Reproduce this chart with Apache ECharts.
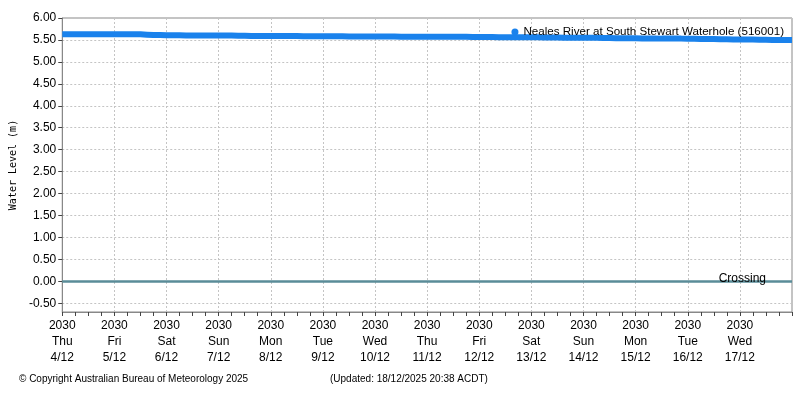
<!DOCTYPE html>
<html>
<head>
<meta charset="utf-8">
<script src="https://cdn.jsdelivr.net/npm/echarts@6/dist/echarts.min.js"></script>
<style>html,body{margin:0;padding:0;background:#fff}#c{width:800px;height:400px}</style>
</head>
<body>
<div id="c"></div>
<script>
var seriesName = 'Neales River at South Stewart Waterhole (516001)';
var startDateUTC = Date.UTC(2030, 11, 4);   // 4/12 00:00
var stepHours = 3;
var waterLevel = [
  5.63,5.63,5.63,5.63,5.63,5.63,5.63,5.63,
  5.63,5.63,5.63,5.63,5.63,5.62,5.61,5.61,
  5.605,5.605,5.605,5.60,5.60,5.60,5.60,5.60,
  5.60,5.60,5.60,5.595,5.595,5.59,5.59,5.59,
  5.59,5.59,5.59,5.59,5.59,5.585,5.585,5.585,
  5.585,5.585,5.585,5.585,5.58,5.58,5.58,5.58,
  5.58,5.58,5.58,5.58,5.575,5.57,5.57,5.57,
  5.57,5.57,5.57,5.57,5.57,5.57,5.57,5.565,
  5.565,5.565,5.565,5.56,5.56,5.56,5.56,5.56,
  5.56,5.56,5.555,5.555,5.555,5.55,5.55,5.55,
  5.55,5.55,5.55,5.545,5.545,5.54,5.54,5.54,
  5.54,5.535,5.535,5.535,5.53,5.53,5.53,5.53,
  5.525,5.525,5.52,5.52,5.52,5.515,5.515,5.51,
  5.51,5.51,5.51,5.505,5.505,5.50,5.50,5.50,
  5.50
];
var tickYears = ['2030','2030','2030','2030','2030','2030','2030','2030','2030','2030','2030','2030','2030','2030','2030'];
var tickDays = ['Thu','Fri','Sat','Sun','Mon','Tue','Wed','Thu','Fri','Sat','Sun','Mon','Tue','Wed','Thu'];
var tickDates = ['4/12','5/12','6/12','7/12','8/12','9/12','10/12','11/12','12/12','13/12','14/12','15/12','16/12','17/12','18/12'];
var yTicks = [-0.5,0,0.5,1,1.5,2,2.5,3,3.5,4,4.5,5,5.5,6];
var crossingLevel = 0;
var crossingName = 'Crossing';
var copyrightText = '\u00a9 Copyright Australian Bureau of Meteorology 2025';
var updatedText = '(Updated: 18/12/2025 20:38 ACDT)';

var DAY = 86400000;
var data = waterLevel.map(function (v, i) { return [startDateUTC + i * stepHours * 3600000, v]; });
var font = 'Liberation Sans, Arial, sans-serif';

var chart = echarts.init(document.getElementById('c'), null, {renderer: 'canvas'});
chart.setOption({
  animation: false,
  backgroundColor: '#fff',
  grid: {left: 62, right: 8, top: 18, bottom: 88, show: true, borderColor: '#888', borderWidth: 1, containLabel: false},
  legend: {
    show: true, right: 11, top: 21, icon: 'circle', itemWidth: 7, itemHeight: 7, itemGap: 6,
    textStyle: {fontFamily: font, fontSize: 11.6, color: '#000'},
    data: [seriesName]
  },
  xAxis: {
    type: 'value',
    min: startDateUTC,
    max: startDateUTC + (tickDates.length - 1) * DAY,
    interval: DAY,
    axisLine: {show: true, onZero: false, lineStyle: {color: '#888', width: 1}},
    axisTick: {show: true, inside: false, length: 4, lineStyle: {color: '#444'}},
    minorTick: {show: true, splitNumber: 4, length: 4, lineStyle: {color: '#444'}},
    splitLine: {show: true, lineStyle: {color: '#c4c4c4', type: [2, 2], width: 1}},
    axisLabel: {
      showMaxLabel: false, showMinLabel: true,
      fontFamily: font, fontSize: 12, color: '#000', lineHeight: 16, margin: 6,
      formatter: function (v) {
        var i = Math.round((v - startDateUTC) / DAY);
        return tickYears[i] + '\n' + tickDays[i] + '\n' + tickDates[i];
      }
    }
  },
  yAxis: {
    type: 'value',
    min: -0.7, max: 6,
    name: 'Water Level (m)', nameLocation: 'middle', nameGap: 42, nameRotate: 90,
    nameTextStyle: {fontFamily: 'DejaVu Sans Mono, monospace', fontSize: 10, color: '#000'},
    axisLine: {show: true, lineStyle: {color: '#888', width: 1}},
    axisTick: {show: true, length: 4, customValues: yTicks, lineStyle: {color: '#444'}},
    splitLine: {show: true, lineStyle: {color: '#c4c4c4', type: [2, 2], width: 1}},
    axisLabel: {
      customValues: yTicks, fontFamily: font, fontSize: 12, color: '#000', margin: 6,
      formatter: function (v) { return v.toFixed(2); }
    }
  },
  series: [{
    name: seriesName,
    type: 'line',
    data: data,
    showSymbol: false,
    symbol: 'circle',
    itemStyle: {color: '#1a82ec'},
    lineStyle: {color: '#1a82ec', width: 6},
    markLine: {
      silent: true, symbol: ['none', 'none'],
      lineStyle: {color: '#5a8c98', width: 2.5, type: 'solid'},
      label: {
        show: true, position: 'insideEndTop', formatter: crossingName,
        fontFamily: font, fontSize: 12, color: '#000', padding: [0, 29, 0, 0], distance: -3
      },
      data: [{yAxis: crossingLevel}]
    }
  }],
  graphic: [
    {type: 'text', left: 19, top: 374, style: {text: copyrightText, font: '10px ' + font, fill: '#000'}},
    {type: 'text', left: 330, top: 374, style: {text: updatedText, font: '10px ' + font, fill: '#000'}}
  ]
});
</script>
</body>
</html>
